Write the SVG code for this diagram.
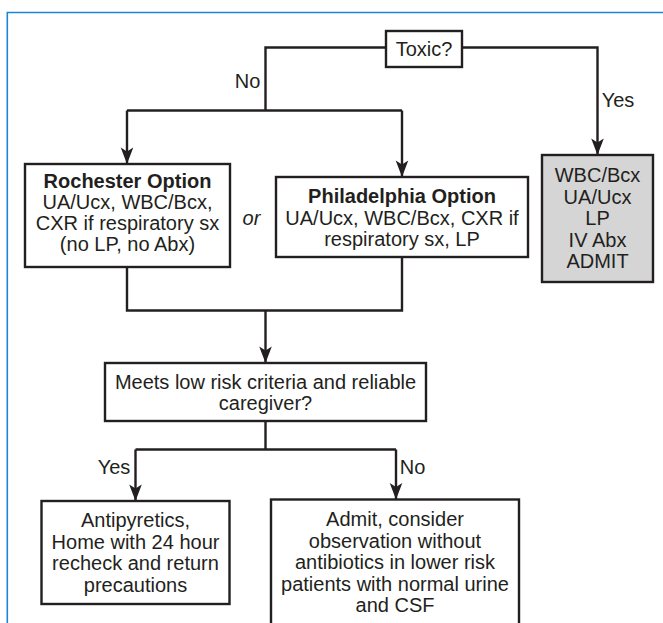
<svg xmlns="http://www.w3.org/2000/svg" width="663" height="623" viewBox="0 0 663 623">
<style>
.box{fill:#fff;stroke:#231f20;stroke-width:2.4}
.grey{fill:#d5d5d5;stroke:#231f20;stroke-width:2.4}
.t{font-family:"Liberation Sans",Arial,sans-serif;font-size:20px;fill:#231f20;text-anchor:middle}
.b{font-weight:bold}
.i{font-style:italic}
.ln{fill:none;stroke:#231f20;stroke-width:2.4}
.ar{fill:none;stroke:#231f20;stroke-width:2.4;marker-end:url(#ah)}
</style>
<defs>
<marker id="ah" markerUnits="userSpaceOnUse" markerWidth="18" markerHeight="14" viewBox="-17 -7 18 14" refX="0" refY="0" orient="auto">
<path d="M0,0 L-16.5,-6.3 L-12.5,0 L-16.5,6.3 Z" fill="#231f20"/>
</marker>
</defs>
<rect x="0" y="0" width="663" height="623" fill="#fff"/>
<path d="M7.3,623 V12.5 H663" fill="none" stroke="#1e86d6" stroke-width="1.6"/>
<g id="connectors">
<path class="ln" d="M386,47.5 H265.5 V110.5"/>
<path class="ln" d="M127,110.5 H402"/>
<path class="ar" d="M127,110.5 V164"/>
<path class="ar" d="M402,110.5 V177"/>
<path class="ar" d="M462,47.5 H597.5 V155"/>
<path class="ln" d="M127,267 V310.5 H402 V257"/>
<path class="ar" d="M265.5,310.5 V363"/>
<path class="ln" d="M265.5,421 V449.5"/>
<path class="ln" d="M135.5,449.5 H396"/>
<path class="ar" d="M135.5,449.5 V501"/>
<path class="ar" d="M396,449.5 V499.5"/>
<text class="t" x="247.5" y="88">No</text>
<text class="t" x="618" y="107">Yes</text>
<text class="t i" x="251.5" y="225">or</text>
<text class="t" x="114" y="474">Yes</text>
<text class="t" x="412.5" y="473.5">No</text>
</g>
<g id="toxic">
<rect class="box" x="386" y="31" width="76" height="36"/>
<text class="t" x="424" y="56">Toxic?</text>
</g>
<g id="rochester">
<rect class="box" x="25" y="164" width="205" height="103"/>
<text class="t b" x="127.5" y="187.5">Rochester Option</text>
<text class="t" x="127.5" y="208.5">UA/Ucx, WBC/Bcx,</text>
<text class="t" x="127.5" y="229.5">CXR if respiratory sx</text>
<text class="t" x="127.5" y="250.5">(no LP, no Abx)</text>
</g>
<g id="philadelphia">
<rect class="box" x="276" y="177" width="252" height="80"/>
<text class="t b" x="402" y="203">Philadelphia Option</text>
<text class="t" x="402" y="224.5">UA/Ucx, WBC/Bcx, CXR if</text>
<text class="t" x="402" y="246">respiratory sx, LP</text>
</g>
<g id="toxic-yes">
<rect class="grey" x="542" y="155" width="111" height="127"/>
<text class="t" x="597.5" y="182">WBC/Bcx</text>
<text class="t" x="597.5" y="203.5">UA/Ucx</text>
<text class="t" x="597.5" y="225">LP</text>
<text class="t" x="597.5" y="246.5">IV Abx</text>
<text class="t" x="597.5" y="268">ADMIT</text>
</g>
<g id="low-risk">
<rect class="box" x="105" y="363" width="321" height="58"/>
<text class="t" x="265.5" y="388.5">Meets low risk criteria and reliable</text>
<text class="t" x="265.5" y="410">caregiver?</text>
</g>
<g id="home">
<rect class="box" x="41.5" y="501" width="188" height="103"/>
<text class="t" x="135.5" y="527">Antipyretics,</text>
<text class="t" x="135.5" y="548.5">Home with 24 hour</text>
<text class="t" x="135.5" y="570">recheck and return</text>
<text class="t" x="135.5" y="591.5">precautions</text>
</g>
<g id="admit">
<rect class="box" x="271" y="499.5" width="248" height="135"/>
<text class="t" x="395" y="526">Admit, consider</text>
<text class="t" x="395" y="547.5">observation without</text>
<text class="t" x="395" y="569">antibiotics in lower risk</text>
<text class="t" x="395" y="590.5">patients with normal urine</text>
<text class="t" x="395" y="612">and CSF</text>
</g>
</svg>
